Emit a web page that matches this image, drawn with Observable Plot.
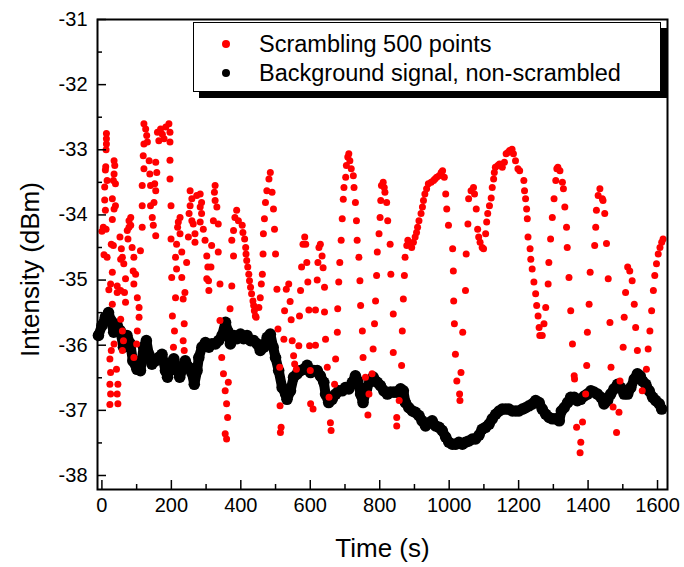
<!DOCTYPE html>
<html><head><meta charset="utf-8">
<script src="https://cdn.jsdelivr.net/npm/d3@7"></script>
<script src="https://cdn.jsdelivr.net/npm/@observablehq/plot@0.6"></script>
<style>
body{margin:0;background:#fff;}
#wrap{position:relative;width:684px;height:567px;font-family:"Liberation Sans",Arial,sans-serif;}
#legend{position:absolute;left:193px;top:22px;width:466px;height:68px;border:1.5px solid #000;background:#fff;box-shadow:6px 6px 0 #000;}
.dot{position:absolute;width:8px;height:8px;border-radius:50%;left:28px;}
.lab{position:absolute;left:65px;font-size:23.5px;line-height:26px;color:#000;white-space:nowrap;}
</style></head>
<body><div id="wrap"></div>
<script>
const seriesNames = ["Scrambling 500 points", "Background signal, non-scrambled"];
const seriesColors = ["#ff0000", "#000000"];
const xTitle = "Time (s)";
const yTitle = "Intensity (dBm)";
const xMajor = [0, 200, 400, 600, 800, 1000, 1200, 1400, 1600];
const xMinor = [100, 300, 500, 700, 900, 1100, 1300, 1500];
const yMajor = [-38, -37, -36, -35, -34, -33, -32, -31];
const yMinor = [-37.5, -36.5, -35.5, -34.5, -33.5, -32.5, -31.5];
const xDomain = [-12.7, 1628.7];
const yDomain = [-38.215, -31];

// [time (s), intensity (dBm)]
const scrambled = [
[0,-34.25],[4,-34.19],[6,-34.61],[8,-33.57],[8,-33.77],[10,-33.31],[10,-33.93],[11,-33.26],[12,-34.22],[12,-33.00],[13,-32.75],[13,-32.83],[13,-32.91],[15,-33.47],[15,-34.65],[20,-35.15],[23,-36.21],[23,-36.60],[23,-36.91],[25,-36.42],[25,-36.75],[25,-35.06],[27,-36.08],[27,-34.45],[30,-35.37],[30,-33.75],[30,-34.07],[30,-34.88],[33,-33.47],[33,-34.47],[35,-33.17],[35,-33.37],[35,-33.91],[35,-35.98],[37,-33.24],[39,-33.52],[39,-33.86],[42,-36.37],[44,-35.09],[44,-35.19],[44,-36.75],[46,-36.60],[46,-36.90],[52,-34.34],[54,-35.16],[54,-35.60],[54,-34.68],[56,-34.52],[59,-35.78],[59,-36.08],[59,-34.65],[62,-35.93],[63,-34.75],[65,-35.19],[68,-34.98],[68,-35.34],[73,-34.24],[75,-34.37],[78,-34.09],[78,-34.19],[83,-34.16],[83,-34.04],[87,-34.50],[90,-34.86],[92,-34.65],[92,-35.06],[92,-36.19],[97,-34.91],[100,-35.98],[102,-35.27],[102,-35.78],[107,-35.42],[107,-35.57],[111,-34.55],[116,-33.55],[116,-33.86],[116,-34.19],[119,-33.09],[121,-32.60],[121,-32.91],[121,-33.29],[126,-32.68],[129,-32.78],[131,-32.88],[136,-33.17],[138,-33.37],[140,-33.55],[140,-33.86],[145,-34.04],[148,-34.16],[150,-33.81],[152,-33.52],[155,-33.19],[155,-33.63],[155,-34.32],[158,-33.35],[160,-32.73],[164,-32.86],[169,-32.68],[174,-32.76],[179,-32.83],[184,-32.65],
[193,-32.60],[196,-32.73],[196,-32.88],[196,-33.16],[196,-33.45],[199,-33.86],[199,-34.37],[201,-34.96],[203,-35.55],[206,-36.03],[209,-35.78],[212,-35.27],[212,-34.65],[215,-34.83],[215,-34.45],[218,-34.19],[220,-34.11],[225,-34.04],[225,-34.29],[230,-34.57],[230,-34.96],[234,-35.29],[234,-35.93],[237,-35.67],[237,-36.08],[239,-35.19],[244,-34.73],[249,-34.34],[251,-33.98],[254,-33.63],[254,-33.86],[259,-33.75],[259,-34.09],[263,-34.14],[268,-34.29],[268,-34.42],[273,-33.70],[283,-33.68],[283,-33.88],[283,-34.11],[287,-33.81],[287,-33.98],[292,-34.22],[297,-34.39],[302,-34.63],[302,-34.98],[305,-34.80],[307,-35.01],[308,-35.16],[314,-34.80],[316,-34.47],[321,-34.09],[324,-33.65],[326,-33.55],[326,-33.78],[331,-33.88],[335,-34.14],[335,-34.57],[340,-35.06],[340,-35.62],[345,-36.19],[350,-36.44],[355,-36.70],[355,-37.36],[359,-36.90],[359,-37.44],[362,-37.11],[364,-36.57],[369,-35.44],[374,-35.09],[374,-34.39],[379,-34.24],[379,-34.63],[383,-34.04],[388,-33.93],[393,-34.09],
[404,-34.16],[406,-34.27],[411,-34.37],[414,-34.50],[415,-34.60],[417,-34.70],[420,-34.80],[423,-34.91],[425,-35.01],[428,-35.11],[431,-35.21],[435,-35.32],[437,-35.39],[439,-35.47],[442,-35.55],[444,-35.57],[452,-35.42],[456,-35.27],[459,-35.06],[462,-34.91],[464,-34.60],[465,-34.29],[468,-34.06],[471,-33.81],[475,-33.63],[481,-33.45],[485,-33.35],[490,-33.65],[494,-33.91],[497,-34.22],[500,-34.60],[504,-35.14],[507,-35.75],[512,-36.34],[513,-36.93],[514,-37.34],[516,-37.26],[524,-35.91],[526,-35.47],[531,-35.14],[538,-35.06],[542,-35.33],[545,-35.61],[548,-35.93],[552,-36.16],[555,-36.29],[560,-36.37],[567,-36.01],[569,-35.55],[572,-35.16],[575,-34.80],[579,-34.45],[584,-34.34],[587,-34.45],[590,-34.73],[593,-35.03],[596,-35.46],[598,-36.01],[600,-36.39],[601,-36.90],
[608,-36.98],[615,-35.46],[615,-36.00],[620,-35.00],[622,-34.73],[625,-34.50],[629,-34.45],[634,-34.63],[637,-34.81],[641,-35.11],[641,-35.49],[644,-35.91],[649,-36.34],[654,-36.80],[658,-37.19],[660,-37.31],[670,-36.60],[673,-36.21],[678,-35.80],[679,-35.44],[682,-35.03],[685,-34.73],[689,-34.39],[692,-34.06],[695,-33.76],[697,-33.58],[702,-33.42],[704,-33.24],[708,-33.11],[711,-33.06],[714,-33.17],[718,-33.29],[724,-33.40],[726,-33.58],[730,-33.81],[733,-34.09],[735,-34.39],[740,-34.65],[743,-35.01],[745,-35.39],[750,-35.78],[752,-36.19],[759,-36.49],[766,-37.07],[769,-36.75],[778,-36.44],[781,-36.06],[785,-35.67],[788,-35.32],[791,-34.93],[793,-34.57],[798,-34.29],[801,-34.04],[803,-33.78],[805,-33.55],
[810,-33.50],[813,-33.58],[815,-33.65],[820,-33.81],[823,-34.09],[830,-34.45],[832,-34.91],[839,-35.52],[839,-36.11],[849,-37.11],[849,-37.24],[856,-36.85],[863,-36.31],[865,-35.78],[868,-35.29],[871,-34.93],[873,-34.65],[878,-34.47],[881,-34.39],[887,-34.45],[892,-34.50],[897,-34.42],[902,-34.34],[906,-34.27],[909,-34.19],[913,-34.09],[919,-33.98],[923,-33.88],[926,-33.78],[930,-33.68],[935,-33.60],[940,-33.52],[948,-33.50],[955,-33.47],[959,-33.45],[964,-33.42],[971,-33.40],[977,-33.35],[981,-33.32],[986,-33.42],[990,-33.68],[993,-33.91],[998,-34.16],
[1010,-34.52],[1012,-34.86],[1013,-35.32],[1015,-35.67],[1018,-36.14],[1022,-36.55],[1030,-36.75],[1031,-36.85],[1034,-36.42],[1039,-35.80],[1047,-35.16],[1049,-34.60],[1054,-34.14],[1056,-33.75],[1063,-33.63],[1070,-33.58],[1073,-33.68],[1078,-33.91],[1082,-34.22],[1085,-34.34],[1089,-34.42],[1095,-34.50],[1099,-34.52],[1105,-34.29],[1108,-34.11],[1111,-33.98],[1116,-33.86],[1121,-33.74],[1124,-33.58],[1128,-33.45],[1130,-33.35],[1133,-33.27],[1140,-33.24],[1145,-33.22],[1153,-33.27],[1159,-33.19],[1164,-33.06],[1169,-33.04],[1174,-33.01],[1181,-32.99],[1185,-33.06],[1191,-33.17],[1198,-33.29],[1203,-33.32],
[1215,-33.47],[1217,-33.63],[1220,-33.75],[1223,-33.91],[1225,-34.06],[1227,-34.34],[1233,-34.52],[1235,-34.68],[1239,-34.83],[1244,-35.03],[1249,-35.21],[1252,-35.39],[1256,-35.55],[1259,-35.73],[1261,-35.85],[1268,-35.85],[1273,-35.67],[1278,-35.42],[1285,-35.06],[1287,-34.73],[1292,-34.37],[1297,-34.04],[1302,-33.75],[1307,-33.47],[1310,-33.29],[1313,-33.27],[1319,-33.32],[1326,-33.50],[1329,-33.60],[1333,-33.88],[1338,-34.19],[1340,-34.50],[1345,-34.96],[1350,-35.47],[1355,-35.98],[1360,-36.47],[1361,-36.52],[1367,-37.26],[1377,-37.65],[1379,-37.49],[1384,-37.18],[1393,-36.75],[1396,-36.31],[1398,-35.80],[1403,-35.37],[1406,-34.88],
[1419,-34.47],[1422,-34.19],[1424,-33.93],[1429,-33.70],[1434,-33.60],[1441,-33.75],[1443,-33.78],[1448,-33.98],[1453,-34.44],[1458,-34.98],[1463,-35.65],[1466,-36.34],[1472,-36.95],[1482,-37.34],[1489,-37.03],[1492,-36.55],[1501,-36.03],[1504,-35.57],[1508,-35.19],[1514,-34.80],[1520,-34.86],[1527,-35.01],[1533,-35.37],[1537,-35.73],[1542,-36.08],[1556,-36.70],[1568,-36.37],[1573,-36.06],[1578,-35.78],[1583,-35.47],[1588,-35.16],[1592,-34.93],[1597,-34.75],[1602,-34.60],[1607,-34.50],[1612,-34.42],[1616,-34.37]
];

// [time (s), intensity (dBm)]
const background = [
[-10,-35.85],[0,-35.70],[10,-35.57],[19,-35.50],[26,-35.62],[34,-35.80],[43,-35.68],[53,-35.78],[62,-36.03],[72,-35.85],[82,-35.98],[89,-36.24],[101,-36.37],[111,-36.39],[120,-36.03],[128,-35.93],[135,-36.14],[144,-36.29],[154,-36.24],[163,-36.19],[173,-36.14],[183,-36.39],[189,-36.49],[197,-36.29],[207,-36.21],[216,-36.37],[224,-36.49],[234,-36.34],[240,-36.24],[250,-36.34],[259,-36.42],[266,-36.60],[274,-36.39],[279,-36.19],[288,-36.03],[298,-35.96],[308,-36.03],[317,-35.98],[327,-35.98],[336,-35.93],[346,-35.85],[356,-35.65],[362,-35.78],[370,-35.98],[380,-35.85],[389,-35.90],[399,-35.83],[408,-35.90],[418,-35.85],[428,-35.93],[437,-35.93],[447,-35.98],[456,-36.08],[466,-36.03],[476,-35.88],[485,-35.83],[493,-36.03],[500,-36.19],[509,-36.39],[519,-36.65],[529,-36.75],[533,-36.83],[543,-36.70],[552,-36.49],[562,-36.44],[572,-36.39],[581,-36.37],[591,-36.31],[601,-36.42],[610,-36.39],[620,-36.39],[629,-36.47],[639,-36.57],[644,-36.75],[653,-36.88],[663,-36.83],[673,-36.75],[682,-36.70],[692,-36.70],[701,-36.65],[711,-36.67],[721,-36.57],[730,-36.47],[737,-36.55],[745,-36.75],[752,-36.88],[762,-36.67],[772,-36.55],[781,-36.49],[793,-36.57],[802,-36.62],[812,-36.70],[822,-36.75],[831,-36.72],[841,-36.72],[850,-36.72],[860,-36.67],[868,-36.70],[874,-36.88],[884,-36.96],[894,-37.01],[903,-37.03],[913,-37.08],[922,-37.16],[932,-37.24],[942,-37.19],[951,-37.16],[961,-37.24],[971,-37.26],[980,-37.31],[990,-37.41],[999,-37.49],[1009,-37.52],[1019,-37.52],[1028,-37.49],[1038,-37.52],[1047,-37.49],[1057,-37.47],[1067,-37.44],[1076,-37.44],[1086,-37.38],[1095,-37.29],[1105,-37.26],[1115,-37.21],[1124,-37.13],[1134,-37.06],[1144,-37.01],[1153,-36.98],[1163,-36.98],[1172,-36.98],[1182,-37.01],[1192,-37.01],[1201,-37.01],[1211,-36.98],[1220,-36.96],[1230,-36.93],[1240,-36.90],[1249,-36.85],[1259,-36.88],[1268,-36.98],[1278,-37.06],[1288,-37.11],[1297,-37.13],[1307,-37.13],[1317,-37.16],[1323,-37.01],[1331,-36.96],[1341,-36.88],[1350,-36.80],[1360,-36.80],[1369,-36.85],[1379,-36.83],[1389,-36.78],[1398,-36.75],[1408,-36.70],[1417,-36.72],[1427,-36.75],[1437,-36.80],[1446,-36.90],[1456,-36.85],[1465,-36.75],[1475,-36.67],[1485,-36.60],[1494,-36.65],[1504,-36.75],[1514,-36.75],[1523,-36.65],[1533,-36.52],[1542,-36.44],[1550,-36.47],[1557,-36.55],[1566,-36.60],[1576,-36.70],[1586,-36.80],[1595,-36.85],[1605,-36.90],[1612,-36.98]
];

const W = 684, H = 567, mL = 97, mR = 17, mT = 19, mB = 78;
const plotW = W - mL - mR, plotH = H - mT - mB;
const font = '"Liberation Sans", Arial, sans-serif';

const chart = Plot.plot({
  width: W, height: H,
  marginLeft: mL, marginRight: mR, marginTop: mT, marginBottom: mB,
  style: {fontFamily: font, background: "white", color: "black", overflow: "visible"},
  x: {domain: xDomain, label: null},
  y: {domain: yDomain, label: null},
  marks: [
    Plot.line(background, {x: d => d[0], y: d => d[1], stroke: seriesColors[1], strokeWidth: 10, strokeLinejoin: "round", strokeLinecap: "round"}),
    Plot.dot(background, {x: d => d[0], y: d => d[1], r: 5.8, fill: seriesColors[1]}),
    Plot.dot(scrambled, {x: d => d[0], y: d => d[1], r: 3.5, fill: seriesColors[0]}),
    Plot.tickX(xMajor, {x: d => d, insetTop: plotH - 9, stroke: "black", strokeWidth: 1.5}),
    Plot.tickX(xMinor, {x: d => d, insetTop: plotH - 5, stroke: "black", strokeWidth: 1.5}),
    Plot.tickY(yMajor, {y: d => d, insetRight: plotW - 9, stroke: "black", strokeWidth: 1.5}),
    Plot.tickY(yMinor, {y: d => d, insetRight: plotW - 5, stroke: "black", strokeWidth: 1.5}),
    Plot.axisX(xMajor, {tickSize: 0, tickPadding: 8, fontSize: 20, tickFormat: d => String(d), label: null}),
    Plot.axisY(yMajor, {tickSize: 0, tickPadding: 10, fontSize: 20, tickFormat: d => String(d), label: null}),
    Plot.frame({stroke: "black", strokeWidth: 2}),
    Plot.text([xTitle], {frameAnchor: "bottom", dy: 59, lineAnchor: "middle", textAnchor: "middle", fontSize: 26, text: d => d}),
    Plot.text([yTitle], {frameAnchor: "left", dx: -67, dy: 15, rotate: -90, lineAnchor: "middle", textAnchor: "middle", fontSize: 26, text: d => d})
  ]
});

const wrap = document.getElementById("wrap");
wrap.appendChild(chart);

const legend = document.createElement("div");
legend.id = "legend";
const rowsY = [21, 50];
seriesNames.forEach((name, i) => {
  const dot = document.createElement("span");
  dot.className = "dot";
  dot.style.background = seriesColors[i];
  dot.style.top = (rowsY[i] - 4) + "px";
  legend.appendChild(dot);
  const lab = document.createElement("span");
  lab.className = "lab";
  lab.textContent = name;
  lab.style.top = (rowsY[i] - 13) + "px";
  legend.appendChild(lab);
});
wrap.appendChild(legend);
</script>
</body></html>
